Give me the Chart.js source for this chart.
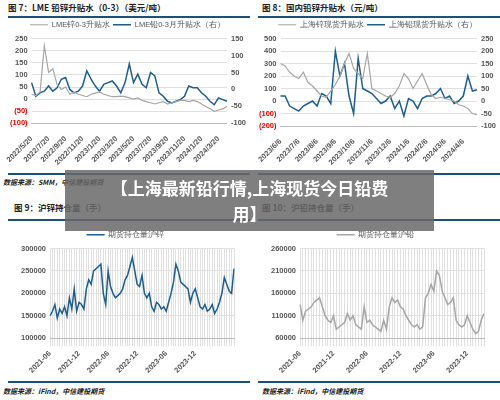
<!DOCTYPE html>
<html><head><meta charset="utf-8">
<script src="https://cdn.jsdelivr.net/npm/chart.js@4"></script>
<style>
body{margin:0;width:500px;height:400px;background:#fff;position:relative;overflow:hidden;font-family:"Noto Sans CJK SC",sans-serif}
.t{position:absolute;font-size:8.5px;font-weight:bold;color:#222}
.r{position:absolute;height:2px;background:#1f4e79}
.s{position:absolute;font-size:7px;font-style:italic;font-weight:bold;color:#222}
.c{position:absolute}
#ban{position:absolute;left:65px;top:170px;width:369px;height:61px;background:rgba(105,105,105,0.85);color:#fff;font-weight:bold;font-size:17px;line-height:26px;text-align:center;padding-top:5px;box-sizing:border-box}
</style></head><body>
<div class="t" style="left:8px;top:1px">图 7：LME 铅锌升贴水（0-3）（美元/吨）</div>
<div class="r" style="left:8px;top:16px;width:242px"></div>
<div class="t" style="left:262px;top:1px">图 8：国内铅锌升贴水（元/吨）</div>
<div class="r" style="left:258px;top:16px;width:242px"></div>
<div class="r" style="left:8px;top:173px;width:242px"></div>
<div class="r" style="left:258px;top:173px;width:242px"></div>
<div class="s" style="left:3px;top:177px">数据来源：SMM，中信建投期货</div>
<div class="t" style="left:14px;top:201px">图 9：沪锌持仓量（手）</div>
<div class="r" style="left:8px;top:219px;width:242px"></div>
<div class="t" style="left:262px;top:201px">图 10：沪铅持仓量（手）</div>
<div class="r" style="left:258px;top:219px;width:242px"></div>
<div class="r" style="left:8px;top:381px;width:242px"></div>
<div class="r" style="left:258px;top:381px;width:242px"></div>
<div class="s" style="left:3px;top:386px">数据来源：iFind，中信建投期货</div>
<div class="s" style="left:262px;top:386px">数据来源：iFind，中信建投期货</div>
<div class="c" style="left:5px;top:18px;width:245px;height:152px"><canvas id="c7"></canvas></div>
<div class="c" style="left:255px;top:18px;width:245px;height:152px"><canvas id="c8"></canvas></div>
<div class="c" style="left:5px;top:228px;width:245px;height:150px"><canvas id="c9"></canvas></div>
<div class="c" style="left:255px;top:228px;width:245px;height:150px"><canvas id="c10"></canvas></div>
<div id="ban">【上海最新铅行情,上海现货今日铅费<br>用】</div>
<script>
// Chart 7 (half-monthly, 2022/5/20 - 2024/4)
const ticks7 = ["2022/5/20","2022/7/20","2022/9/20","2022/11/20","2023/1/20","2023/3/20","2023/5/20","2023/7/20","2023/9/20","2023/11/20","2024/1/20","2024/3/20"];
const zinc7 = [20,15,30,220,110,125,60,40,50,20,30,20,15,10,20,25,30,20,15,10,10,12,10,5,0,5,-5,-10,-15,-20,-15,-10,-20,-15,-10,-5,-5,-10,-5,-10,-20,-30,-40,-50,-45,-40,-30];
const lead7 = [20,-20,-10,-5,10,-5,5,30,35,0,-10,-5,10,55,30,10,-5,15,20,25,10,-10,20,75,20,45,15,5,50,40,-10,-20,-35,-40,-35,-30,-20,10,5,5,-10,-20,-35,-45,-25,-30,-35];
// Chart 8 (weekly, 2023/6/6 - 2024/4)
const ticks8 = ["2023/6/6","2023/7/6","2023/8/6","2023/9/6","2023/10/6","2023/11/6","2023/12/6","2024/1/6","2024/2/6","2024/3/6","2024/4/6"];
const zinc8 = [300,280,230,200,180,230,150,120,80,40,30,80,130,200,300,380,260,220,180,380,100,80,60,40,30,60,120,220,180,100,160,220,130,50,20,30,20,10,0,-30,-40,-60,-100,-110];
const lead8 = [20,20,-20,-30,-40,-20,-10,0,-20,30,20,-10,200,100,150,20,-50,170,50,40,30,10,-10,0,20,-30,0,-60,10,0,-30,10,20,20,30,50,10,20,-10,0,20,100,40,45];
// Chart 9/10 (half-monthly, 2021-06 - 2024-04)
const ticks9 = ["2021-06","2021-12","2022-06","2022-12","2023-06","2023-12"];
const zinc9 = [150,160,175,145,165,155,170,150,190,165,210,160,180,175,165,210,230,220,250,255,260,265,200,175,250,215,200,190,195,200,210,230,240,260,280,250,220,215,240,200,190,200,170,160,180,175,165,170,160,180,200,225,265,250,225,220,215,210,180,200,210,190,170,165,175,160,165,175,155,165,180,200,235,220,205,200,255];
const lead10 = [135,100,120,125,130,140,145,150,130,110,100,95,110,80,85,90,95,115,100,110,90,85,80,130,95,100,90,85,80,75,100,80,130,150,140,145,130,125,110,100,90,85,90,80,85,150,160,180,165,210,200,165,150,135,140,150,100,90,85,90,110,95,80,70,75,100,115];

const gray = "#a6a6a6", blue = "#1f5d8c";
const tickFont = {size: 7.5, weight: "bold", family: "Liberation Sans"};

function xAxis(step, labels) {
  return {grid: {display: false}, border: {color: "#bbb"},
    ticks: {autoSkip: false, maxRotation: 45, minRotation: 45, font: tickFont, color: "#555",
      callback: (v, i) => i % step === 0 ? (labels[i / step] || "") : ""}};
}
function yAxis(min, max, step, pos, red) {
  return {position: pos, min: min, max: max, border: {display: false},
    grid: {display: pos === "left", color: "#e0e0e0", drawTicks: false},
    afterBuildTicks: ax => { const t = []; for (let v = min; v <= max; v += step) t.push({value: v}); ax.ticks = t; },
    ticks: {font: tickFont, padding: 4,
      color: c => red && c.tick.value < 0 ? "#e00000" : "#555",
      callback: v => red && v < 0 ? "(" + (-v) + ")" : v}};
}
function idx(n) { return Array.from({length: n}, (_, i) => i); }
function legend() {
  return {display: true, position: "top", labels: {boxWidth: 18, boxHeight: 0, font: {size: 7.5}, color: "#555", padding: 3}};
}

new Chart(document.getElementById("c7"), {
  type: "line",
  data: {labels: idx(zinc7.length), datasets: [
    {label: "LME锌0-3升贴水", data: zinc7, borderColor: gray, borderWidth: 1.2, pointRadius: 0, yAxisID: "y"},
    {label: "LME铅0-3月升贴水（右）", data: lead7, borderColor: blue, borderWidth: 1.5, pointRadius: 0, yAxisID: "y1"}]},
  options: {animation: false, maintainAspectRatio: false, plugins: {legend: legend()},
    scales: {x: xAxis(4, ticks7), y: yAxis(-100, 250, 50, "left", true), y1: yAxis(-100, 150, 50, "right", false)}}
});

new Chart(document.getElementById("c8"), {
  type: "line",
  data: {labels: idx(zinc8.length), datasets: [
    {label: "上海锌现货升贴水", data: zinc8, borderColor: gray, borderWidth: 1.2, pointRadius: 0, yAxisID: "y"},
    {label: "上海铅现货升贴水（右）", data: lead8, borderColor: blue, borderWidth: 1.5, pointRadius: 0, yAxisID: "y1"}]},
  options: {animation: false, maintainAspectRatio: false, plugins: {legend: legend()},
    scales: {x: xAxis(4, ticks8), y: yAxis(-200, 500, 100, "left", true), y1: yAxis(-100, 250, 50, "right", false)}}
});

function oiChart(id, data, color, label, min, max, step) {
  new Chart(document.getElementById(id), {
    type: "line",
    data: {labels: idx(data.length), datasets: [
      {label: label, data: data.map(v => v * 1000), borderColor: color, borderWidth: 1.5, pointRadius: 0}]},
    options: {animation: false, maintainAspectRatio: false, layout: {padding: {left: 12, right: 16}},
      plugins: {legend: legend()},
      scales: {x: Object.assign(xAxis(12, ticks9), {grid: {display: true, color: "#e0e0e0"}}),
        y: yAxis(min, max, step, "left", false)}}
  });
}
oiChart("c9", zinc9, blue, "期货持仓量沪锌", 100000, 300000, 50000);
oiChart("c10", lead10, gray, "期货持仓量沪铅", 60000, 260000, 50000);
</script>
</body></html>
